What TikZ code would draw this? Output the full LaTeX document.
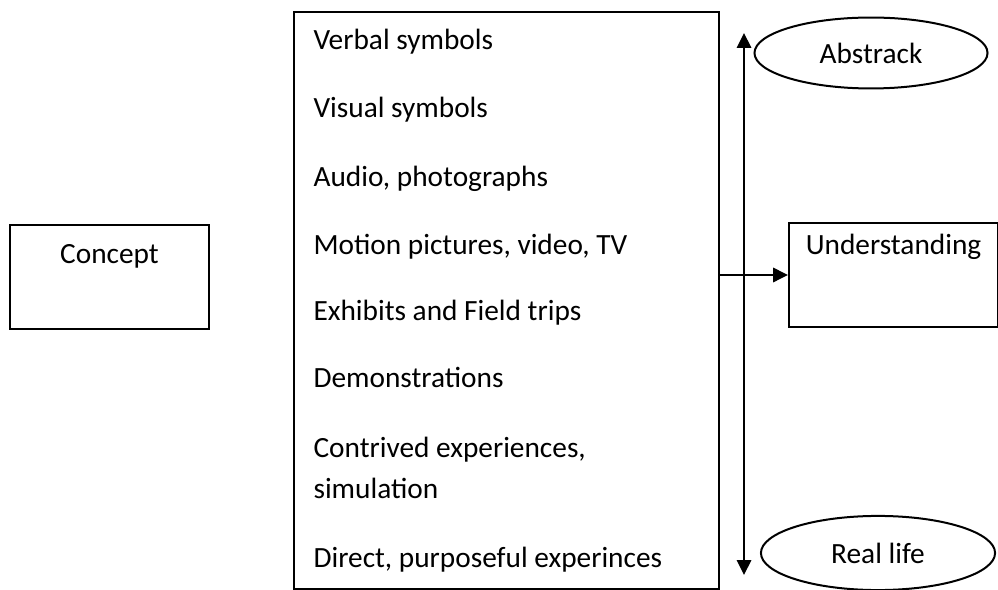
\documentclass[tikz,border=0pt]{standalone}
\usepackage{fontspec}
\setmainfont{Carlito}
\usepackage{tikz}
\usetikzlibrary{shapes.geometric,arrows.meta}
\tikzstyle{bx}=[draw,line width=0.75pt,inner sep=0pt]
\tikzstyle{ov}=[shape=ellipse,draw,line width=0.75pt,inner sep=0pt]
\tikzstyle{item}=[anchor=base west,inner sep=0pt]
\tikzstyle{arr}=[-{Triangle[length=5.6pt,width=5.4pt]},line width=0.75pt]
\tikzstyle{dbl}=[{Triangle[length=5.6pt,width=5.4pt]}-{Triangle[length=5.6pt,width=5.4pt]},line width=0.75pt]

\begin{document}
\begin{tikzpicture}[x=0.375pt,y=-0.375pt,font=\fontsize{11}{13}\selectfont]
            \useasboundingbox (0,0) rectangle (998,590);

            % left box
            \node[bx,anchor=north,minimum width=74.6pt,
                text height=14.6pt,text depth=24.4pt] (concept) at (109.5,224) {Concept}
            ;

            % the list of media
            \node[bx,anchor=north west,minimum width=159.4pt,
                minimum height=216.4pt] (media) at (293,11) {}
            ;
            \node[item] (verbal) at (313,50) {Verbal symbols};
            \node[item] (visual) at (313,118) {Visual symbols};
            \node[item] (audio) at (313,187) {Audio, photographs};
            \node[item] (motion) at (313,255) {Motion pictures, video, TV};
            \node[item] (exhibit) at (313,321) {Exhibits and Field trips};
            \node[item] (demo) at (313,388) {Demonstrations};
            \node[item] (contrived) at (313,457) {Contrived experiences,};
            \node[item] (simul) at (313,498) {simulation};
            \node[item] (direct) at (313,567) {Direct, purposeful experinces};

            % right side
            \node[bx,anchor=north west,minimum width=78.4pt,
                text height=12pt,text depth=27pt] (under) at (788,222) {Understanding}
            ;
            \node[ov,minimum width=87.4pt,minimum height=26.6pt] (abs) at (871,53) {Abstrack};
            \node[ov,minimum width=87.8pt,minimum height=27.8pt] (real) at (878,553) {Real life};

            \coordinate (hi) at (744,33);
            \coordinate (lo) at (744,575);
            \draw[dbl] (lo) -- (hi);
            \draw[arr] (media.east |- under.west) -- (under.west);
\end{tikzpicture}
\end{document}
